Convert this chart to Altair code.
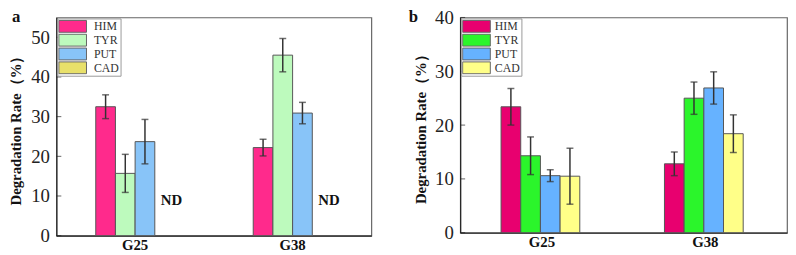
import altair as alt
import pandas as pd

SERIF = "Liberation Serif"

groups = ["G25", "G38"]
series = ["HIM", "TYR", "PUT", "CAD"]

# Panel a (CAD not detected -> "ND")
a_him = [32.5, 22.2]
a_him_err = [3.0, 2.1]
a_tyr = [15.7, 45.5]
a_tyr_err = [4.8, 4.2]
a_put = [23.7, 30.9]
a_put_err = [5.6, 2.7]
a_cad = [None, None]
a_cad_err = [None, None]

# Panel b
b_him = [23.4, 12.8]
b_him_err = [3.4, 2.2]
b_tyr = [14.3, 25.0]
b_tyr_err = [3.5, 3.0]
b_put = [10.6, 26.9]
b_put_err = [1.1, 3.0]
b_cad = [10.5, 18.4]
b_cad_err = [5.2, 3.5]

a_ticks = [0, 10, 20, 30, 40, 50]
b_ticks = [0, 10, 20, 30, 40]
a_max = 55
b_max = 40

a_colors = ["#FF2A8C", "#BDFABD", "#88C4F8", "#E8E06A"]
b_colors = ["#E8006F", "#2BF52B", "#66B2FF", "#FFFF88"]

nd_text = "ND"
y_title = "Degradation Rate（%）"


def make_df(vals, errs):
    rows = []
    for s, v_list, e_list in zip(series, vals, errs):
        for g, v, e in zip(groups, v_list, e_list):
            rows.append({"group": g, "series": s, "value": v, "err": e})
    return pd.DataFrame(rows)


df_a = make_df([a_him, a_tyr, a_put, a_cad], [a_him_err, a_tyr_err, a_put_err, a_cad_err])
df_b = make_df([b_him, b_tyr, b_put, b_cad], [b_him_err, b_tyr_err, b_put_err, b_cad_err])


def panel(df, ticks, ymax, colors, width, height, letter, letter_x, nd, legend_lbl_offset, title_pad):
    xscale = alt.Scale(domain=groups, paddingInner=0.5, paddingOuter=0.25)
    xaxis = alt.Axis(title=None, labelFont=SERIF, labelFontWeight="bold",
                     labelFontSize=15, labelColor="#111", labelAngle=0,
                     ticks=False, domainColor="#222", domainWidth=1.2,
                     labelPadding=2)
    xenc = alt.X("group:N", sort=groups, scale=xscale, axis=xaxis)
    xo = alt.XOffset("series:N", sort=series,
                     scale=alt.Scale(domain=series, paddingInner=0, paddingOuter=0))
    yscale = alt.Scale(domain=[0, ymax], nice=False, zero=True)
    yaxis = alt.Axis(values=ticks, title=y_title, titleFont=SERIF, titleFontWeight="bold",
                     titleFontSize=15, titleColor="#111", titlePadding=title_pad,
                     labelFont=SERIF, labelFontSize=19, labelColor="#222",
                     labelPadding=7, ticks=False, grid=False, domainColor="#222",
                     domainWidth=1.2)
    color = alt.Color("series:N",
                      scale=alt.Scale(domain=series, range=colors),
                      legend=alt.Legend(title=None, orient="top-left", offset=1,
                                        symbolType="M-1,-1H3.667V1H-1Z",
                                        symbolSize=144, symbolStrokeColor="#666",
                                        symbolStrokeWidth=1, symbolOpacity=1,
                                        labelFont=SERIF, labelFontSize=12,
                                        labelColor="#333", labelOffset=legend_lbl_offset,
                                        rowPadding=0, padding=1, clipHeight=14,
                                        strokeColor="#999", fillColor="white"))
    base = alt.Chart(df)
    bars = base.transform_filter("isValid(datum.value)").mark_bar(
        stroke="#555", strokeWidth=1, opacity=1
    ).encode(x=xenc, xOffset=xo, y=alt.Y("value:Q", scale=yscale, axis=yaxis), color=color)

    eb = base.transform_filter("isValid(datum.value)").transform_calculate(
        low="datum.value - datum.err", high="datum.value + datum.err")
    rule = eb.mark_rule(color="#333", strokeWidth=1.5).encode(
        x=xenc, xOffset=xo,
        y=alt.Y("low:Q", scale=yscale, axis=yaxis), y2="high:Q")
    cap_hi = eb.mark_tick(color="#333", thickness=1.5, size=7).encode(
        x=xenc, xOffset=xo, y=alt.Y("high:Q", scale=yscale, axis=yaxis))
    cap_lo = eb.mark_tick(color="#333", thickness=1.5, size=7).encode(
        x=xenc, xOffset=xo, y=alt.Y("low:Q", scale=yscale, axis=yaxis))

    tick_df = pd.DataFrame({"t": ticks})
    inticks = alt.Chart(tick_df).mark_tick(color="#222", thickness=1, size=5, orient="horizontal").encode(
        y=alt.Y("t:Q", scale=yscale, axis=yaxis), x=alt.value(2.5))

    letter_mark = alt.Chart(pd.DataFrame({"l": [letter]})).mark_text(
        font=SERIF, fontWeight="bold", fontSize=17, color="#111", align="left", baseline="alphabetic"
    ).encode(text="l:N", x=alt.value(letter_x), y=alt.value(5))

    layers = [bars, rule, cap_hi, cap_lo, inticks, letter_mark]
    if nd:
        nd_mark = base.transform_filter("!isValid(datum.value)").transform_calculate(
            lbl="'" + nd_text + "'").mark_text(
            font=SERIF, fontWeight="bold", fontSize=15, color="#111", align="center", dx=7
        ).encode(x=xenc, xOffset=xo, y=alt.value(height - 36),
                 text="lbl:N")
        layers.append(nd_mark)
    return alt.layer(*layers).properties(width=width, height=height)


left = panel(df_a, a_ticks, a_max, a_colors, 319, 221, "a", -45, True, 23, 7)
right = panel(df_b, b_ticks, b_max, b_colors, 331, 218, "b", -52, False, 20, 6)

chart = alt.hconcat(left, right, spacing=36).resolve_scale(color="independent").properties(
    padding={"top": -2, "left": 0, "right": 0, "bottom": 0}
).configure(font=SERIF).configure_view(stroke="#666", strokeWidth=1.2)

chart.save("out.html", embed_options={"renderer": "svg", "actions": False})
